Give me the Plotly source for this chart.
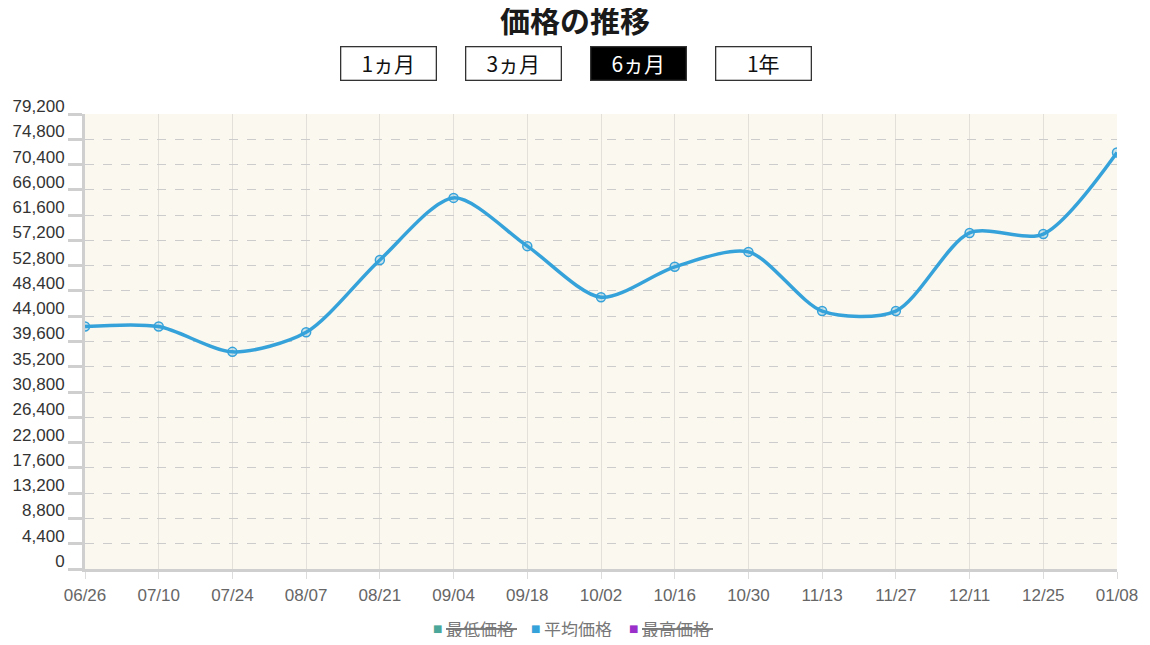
import plotly.graph_objects as go

# データ
dates = ["06/26", "07/10", "07/24", "08/07", "08/21", "09/04", "09/18", "10/02",
         "10/16", "10/30", "11/13", "11/27", "12/11", "12/25", "01/08"]
avg_price = [42200, 42200, 37800, 41200, 53800, 64600, 56200, 47300,
             52600, 55200, 44900, 44900, 58500, 58300, 72500]
y_ticks = list(range(0, 79201, 4400))
periods = ["1ヵ月", "3ヵ月", "6ヵ月", "1年"]
active_period = "6ヵ月"
legend_names = ["最低価格", "平均価格", "最高価格"]
legend_colors = ["#4aa79a", "#36a2da", "#9b2fc9"]
legend_hidden = [True, False, True]

# ページの body 余白 (8px) を差し引いた図のサイズ
OFF = 8
W, H = 1150 - 2 * OFF, 645 - 2 * OFF
L, T = 85 - OFF, 114 - OFF
R, B = W - (1117 - OFF), H - (569 - OFF)
PW, PH = W - L - R, H - T - B
JP = "Noto Sans CJK JP"
NUM = "Liberation Sans"
BLUE = "#36a2da"


def px_x(px):
    # 画面上の x 座標 -> paper 座標
    return (px - OFF - L) / PW


def px_y(py):
    return (H - B - (py - OFF)) / PH


fig = go.Figure()
fig.add_trace(go.Scatter(
    x=dates, y=avg_price,
    mode="lines+markers",
    line=dict(color=BLUE, width=3.5, shape="spline", smoothing=0.8),
    marker=dict(size=9, color="rgba(54,162,218,0.25)", line=dict(color=BLUE, width=1.5)),
    showlegend=False,
    name="平均価格",
))

# 期間ボタン
btn_x = [388, 513, 638, 763]
for label, bx in zip(periods, btn_x):
    on = label == active_period
    fig.add_annotation(
        x=px_x(bx), y=px_y(64), xref="paper", yref="paper",
        xanchor="center", yanchor="middle",
        text=label, showarrow=False,
        width=94, height=32, borderpad=0, borderwidth=1.3,
        bordercolor="#333", bgcolor="#000" if on else "#fff",
        font=dict(family=JP, size=21, color="#fff" if on else "#111"),
    )

# 凡例（非表示系列は取り消し線）
leg_x = [437, 535, 633]
leg_y = 628
for name, color, hidden, lx in zip(legend_names, legend_colors, legend_hidden, leg_x):
    fig.add_annotation(
        x=px_x(lx), y=px_y(leg_y), xref="paper", yref="paper",
        xanchor="center", yanchor="middle", showarrow=False,
        text="■", font=dict(family="DejaVu Sans", size=10, color=color),
    )
    fig.add_annotation(
        x=px_x(lx + 7), y=px_y(leg_y), xref="paper", yref="paper",
        xanchor="left", yanchor="middle", showarrow=False,
        text=name, height=18,
        font=dict(family=JP, size=17, color="#777"),
    )
    if hidden:
        fig.add_shape(
            type="line", xref="paper", yref="paper",
            x0=px_x(lx + 9), x1=px_x(lx + 80),
            y0=px_y(leg_y + 1), y1=px_y(leg_y + 1),
            line=dict(color="#555", width=1.6),
        )

fig.update_layout(
    width=W, height=H,
    margin=dict(l=L, r=R, t=T, b=B, autoexpand=False),
    paper_bgcolor="#fff",
    plot_bgcolor="#fbf8ef",
    title=dict(text="<b>価格の推移</b>", x=(575 - OFF) / W, xanchor="center",
               y=1 - (21 - OFF) / H, yanchor="middle",
               font=dict(family=JP, size=30, color="#1a1a1a")),
    xaxis=dict(
        type="category", range=[0, len(dates) - 1],
        showgrid=True, gridcolor="#e2e0d8", gridwidth=1,
        showline=True, linecolor="#cfcfcf", linewidth=3,
        ticks="outside", ticklen=7, tickwidth=1, tickcolor="#dcdcdc",
        tickfont=dict(family=NUM, size=17, color="#666"),
        ticklabelstandoff=2,
        zeroline=False, fixedrange=True, automargin=False,
    ),
    yaxis=dict(
        range=[0, 79200], tickvals=y_ticks,
        ticktext=[f"{v:,}" for v in y_ticks],
        showgrid=True, gridcolor="#cccccc", gridwidth=1, griddash="dash",
        showline=True, linecolor="#cfcfcf", linewidth=3,
        ticks="outside", ticklen=14, tickwidth=3, tickcolor="#cfcfcf",
        tickfont=dict(family=NUM, size=17, color="#333"),
        ticklabelshift=-8, ticklabelstandoff=0,
        zeroline=False, fixedrange=True, automargin=False,
    ),
    showlegend=False,
)

fig.write_html("out.html")
